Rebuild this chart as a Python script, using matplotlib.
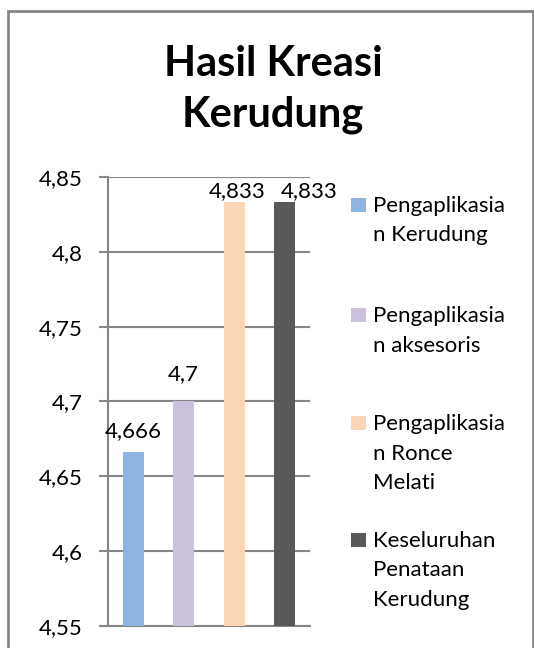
import matplotlib.pyplot as plt
from matplotlib.patches import Rectangle
from matplotlib.ticker import FuncFormatter

plt.rcParams['font.family'] = ['Lato', 'DejaVu Sans']

kategori = ['Pengaplikasia\nn Kerudung', 'Pengaplikasia\nn aksesoris',
            'Pengaplikasia\nn Ronce\nMelati', 'Keseluruhan\nPenataan\nKerudung']
nilai = [4.666, 4.7, 4.833, 4.833]
label_nilai = ['4,666', '4,7', '4,833', '4,833']
warna = ['#8EB4E3', '#CCC1DA', '#FCD5B5', '#595959']
yticks = [4.55, 4.6, 4.65, 4.7, 4.75, 4.8, 4.85]

# geser label angka (px) supaya mirip excel
geser_x = [0, 0, 3, 24]
geser_y = [15, 21, 5, 5]
# baseline baris pertama tiap entri legend (px dari atas)
legend_y = [212, 322, 430, 547]

W, H = 534, 648
fig = plt.figure(figsize=(W/100, H/100), dpi=100)
ax = fig.add_axes([108/W, 1-626/H, 202/W, 449/H])

x = range(len(nilai))
bars = ax.bar(x, [v - 4.55 for v in nilai], bottom=4.55, width=0.42,
              color=warna, zorder=3)
for i, b in enumerate(bars):
    ax.annotate(label_nilai[i], (b.get_x() + b.get_width()/2, nilai[i]),
                xytext=(geser_x[i], geser_y[i]), textcoords='offset pixels',
                ha='center', va='baseline', fontsize=16, color='black',
                annotation_clip=False)

ax.set_xlim(-0.5, 3.5)
ax.set_ylim(4.55, 4.85)
ax.set_yticks(yticks)
ax.yaxis.set_major_formatter(FuncFormatter(lambda v, p: ('%g' % round(v, 2)).replace('.', ',')))
ax.set_xticks([])
ax.tick_params(axis='y', length=6.5, width=1.5, color='#868686', labelsize=16, pad=12)
ax.grid(axis='y', color='#868686', linewidth=1.5, zorder=0)
for s in ['top', 'right']:
    ax.spines[s].set_visible(False)
for s in ['left', 'bottom']:
    ax.spines[s].set_color('#868686')
    ax.spines[s].set_linewidth(1.5)

# judul
fig.text(273/W, 1-76/H, 'Hasil Kreasi', ha='center', va='baseline',
         fontsize=30, fontweight='bold')
fig.text(273/W, 1-127/H, 'Kerudung', ha='center', va='baseline',
         fontsize=30, fontweight='bold')

# legend manual (kotak di baris pertama seperti excel)
for i, lab in enumerate(kategori):
    y0 = legend_y[i]
    fig.patches.append(Rectangle((351/W, 1-y0/H), 15/W, 14/H, transform=fig.transFigure,
                                 facecolor=warna[i], edgecolor='none'))
    for k, baris in enumerate(lab.split('\n')):
        fig.text(373/W, 1-(y0 + k*29.5)/H, baris, ha='left', va='baseline', fontsize=16)

fig.patches.append(Rectangle((8/W, -0.05), 525/W, 1.05 - 11/H, transform=fig.transFigure,
                             fill=False, edgecolor='#868686', linewidth=2))

fig.savefig('out.png', dpi=100)
